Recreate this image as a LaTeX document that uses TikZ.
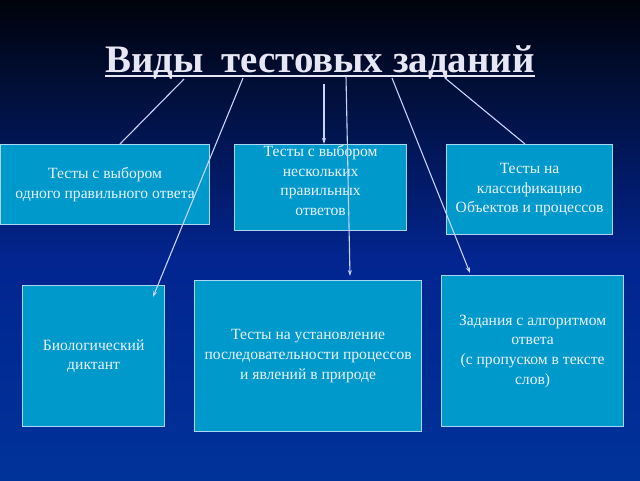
\documentclass[tikz,border=0pt]{standalone}
\usepackage{fontspec}
\setmainfont{Liberation Serif}
\usetikzlibrary{arrows.meta}
\definecolor{bgtop}{HTML}{00030B}
\definecolor{bgmid}{HTML}{022590}
\definecolor{bgbot}{HTML}{003399}
\definecolor{boxfill}{HTML}{0099CC}
\definecolor{boxline}{HTML}{A8D8F4}
\definecolor{txt}{HTML}{EEF4FF}
\definecolor{titlecol}{HTML}{E6E6F4}
\definecolor{conn}{HTML}{C8D4FF}
\begin{document}
\begin{tikzpicture}[x=1pt,y=-1pt,
  box/.style={draw=boxline, line width=1.2pt, fill=boxfill, text=txt, align=center,
    font=\fontsize{15.6}{19.6}\selectfont, inner sep=0pt, anchor=north west},
  link/.style={draw=conn, line width=1.1pt},
  arr/.style={link, -{Stealth[length=6pt,width=4pt]}}]
\useasboundingbox (0,0) rectangle (640,480);
\shade[top color=bgtop, bottom color=bgmid] (0,0) rectangle (640,260);
\shade[top color=bgmid, bottom color=bgbot] (0,260) rectangle (640,480.5);

\node[text=titlecol, font=\fontsize{38.9}{44}\bfseries\selectfont, inner sep=0pt, anchor=base]
  (title) at (320,72) {Виды\hspace{0.45em}тестовых заданий};
\draw[titlecol, line width=2.6pt] ([yshift=-4pt]title.base west) -- ([yshift=-4pt]title.base east);

\node[box, minimum width=209pt, minimum height=80pt] (A) at (0,144)
  {Тесты с выбором\\одного правильного ответа};
\node[box, minimum width=172pt, minimum height=86pt] (B) at (234,144)
  {Тесты с выбором\\нескольких\\правильных\\ответов\\[-5pt]\mbox{}};
\node[box, minimum width=166pt, minimum height=90pt] (C) at (446,144)
  {Тесты на\\классификацию\\Объектов и процессов};
\node[box, minimum width=142pt, minimum height=141pt] (D) at (22,285)
  {Биологический\\диктант};
\node[box, minimum width=227pt, minimum height=151pt] (E) at (194,280)
  {Тесты на установление\\последовательности процессов\\и явлений в природе};
\node[box, minimum width=182pt, minimum height=151pt] (F) at (441,275)
  {Задания с алгоритмом\\ответа\\(с пропуском в тексте\\слов)};

\coordinate (s1) at (184,79);
\coordinate (s2) at (243,78);
\coordinate (s3) at (324,84);
\coordinate (s4) at (346,76);
\coordinate (s5) at (392,78);
\coordinate (s6) at (445,78);
\coordinate (tD) at (153,297);
\coordinate (tE) at (350,276);
\coordinate (tF) at (470,273);

\draw[link] (s1) -- (A.north -| 120,0);
\draw[arr] (s2) -- (tD);
\draw[arr] (s3) -- (B.north -| s3);
\draw[arr] (s4) -- (tE);
\draw[arr] (s5) -- (tF);
\draw[link] (s6) -- (C.north -| 525,0);
\end{tikzpicture}
\end{document}
